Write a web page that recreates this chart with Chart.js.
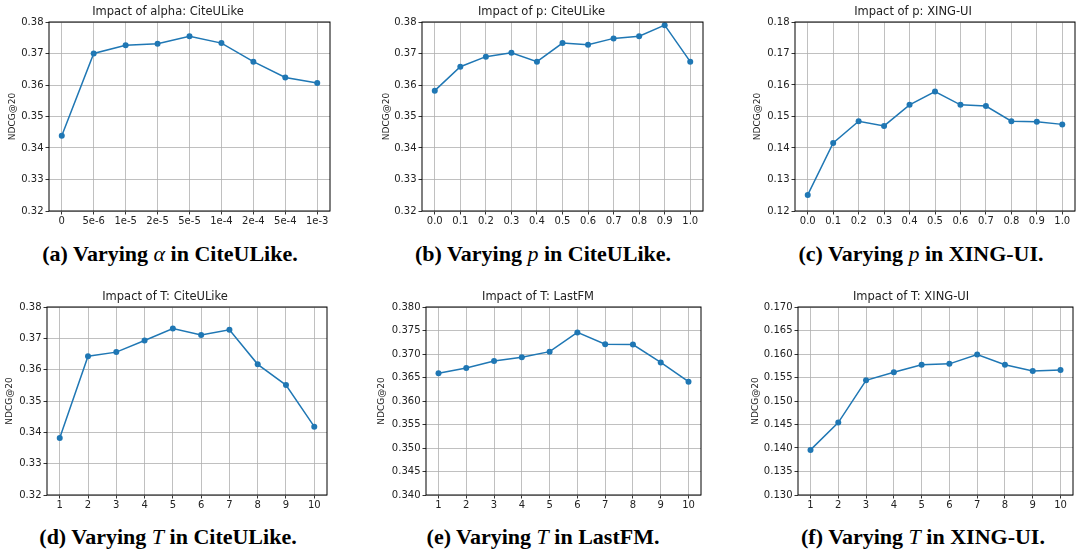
<!DOCTYPE html>
<html>
<head>
<meta charset="utf-8">
<script src="https://cdn.jsdelivr.net/npm/chart.js@4"></script>
<style>
  body { margin: 0; background: #fff; width: 1078px; height: 555px; position: relative; overflow: hidden; }
  canvas { position: absolute; }
  .cap {
    position: absolute; width: 360px; text-align: center;
    font-family: "Liberation Serif", "DejaVu Serif", serif; font-weight: bold; font-size: 22px;
    color: #000; white-space: nowrap;
  }
  .cap i { font-weight: normal; }
</style>
</head>
<body>
<canvas id="chartA"></canvas>
<canvas id="chartB"></canvas>
<canvas id="chartC"></canvas>
<canvas id="chartD"></canvas>
<canvas id="chartE"></canvas>
<canvas id="chartF"></canvas>
<div class="cap" style="left:-10px; top:241px;">(a) Varying <i>α</i> in CiteULike.</div>
<div class="cap" style="left:363px; top:241px;">(b) Varying <i>p</i> in CiteULike.</div>
<div class="cap" style="left:741px; top:241px;">(c) Varying <i>p</i> in XING-UI.</div>
<div class="cap" style="left:-12px; top:524px;">(d) Varying <i>T</i> in CiteULike.</div>
<div class="cap" style="left:363px; top:524px;">(e) Varying <i>T</i> in LastFM.</div>
<div class="cap" style="left:743px; top:524px;">(f) Varying <i>T</i> in XING-UI.</div>
<script>
// x categories / values
const alphaLabels = ['0', '5e-6', '1e-5', '2e-5', '5e-5', '1e-4', '2e-4', '5e-4', '1e-3'];
const pValues = [0.0, 0.1, 0.2, 0.3, 0.4, 0.5, 0.6, 0.7, 0.8, 0.9, 1.0];
const tValues = [1, 2, 3, 4, 5, 6, 7, 8, 9, 10];

// NDCG@20 series
const alphaCiteULike = [0.3439, 0.3700, 0.3726, 0.3731, 0.3755, 0.3733, 0.3674, 0.3624, 0.3606];
const pCiteULike = [0.3582, 0.3658, 0.3690, 0.3702, 0.3674, 0.3733, 0.3728, 0.3748, 0.3755, 0.3790, 0.3674];
const pXingUI = [0.1251, 0.1416, 0.1485, 0.1470, 0.1537, 0.1579, 0.1537, 0.1533, 0.1485, 0.1483, 0.1475];
const tCiteULike = [0.3382, 0.3643, 0.3656, 0.3693, 0.3731, 0.3711, 0.3727, 0.3617, 0.3551, 0.3418];
const tLastFM = [0.3659, 0.3670, 0.3685, 0.3693, 0.3705, 0.3746, 0.3721, 0.3720, 0.3682, 0.3641];
const tXingUI = [0.1396, 0.1454, 0.1544, 0.1561, 0.1577, 0.1579, 0.1599, 0.1577, 0.1564, 0.1566];

// y tick labels
const yTicksCite = ['0.32', '0.33', '0.34', '0.35', '0.36', '0.37', '0.38'];
const yTicksXingP = ['0.12', '0.13', '0.14', '0.15', '0.16', '0.17', '0.18'];
const yTicksLastFM = ['0.340', '0.345', '0.350', '0.355', '0.360', '0.365', '0.370', '0.375', '0.380'];
const yTicksXingT = ['0.130', '0.135', '0.140', '0.145', '0.150', '0.155', '0.160', '0.165', '0.170'];

const BLUE = '#1f77b4';
const GRID = '#b0b0b0';
const TEXT = '#222';
const TITLE_H = 22;
const XAXIS_H = 20;
const PAD_R = 3;

// draws the full black frame around the plot area
const framePlugin = {
    id: 'frame',
    afterDraw(chart) {
        const a = chart.chartArea;
        const ctx = chart.ctx;
        ctx.save();
        ctx.strokeStyle = '#000';
        ctx.lineWidth = 1;
        ctx.strokeRect(a.left, a.top, a.right - a.left, a.bottom - a.top);
        ctx.restore();
    }
};

function makePanel(id, opts) {
    const canvas = document.getElementById(id);
    const yw = opts.plot.l - opts.left;
    const w = opts.plot.r - opts.left + PAD_R;
    const h = (opts.plot.b - opts.plot.t) + TITLE_H + XAXIS_H;
    canvas.style.left = opts.left + 'px';
    canvas.style.top = (opts.plot.t - TITLE_H) + 'px';
    canvas.style.width = w + 'px';
    canvas.style.height = h + 'px';
    canvas.width = w;
    canvas.height = h;

    const yVals = opts.yTicks.map(Number);
    const points = opts.xs.map((x, i) => ({ x: x, y: opts.data[i] }));

    new Chart(canvas, {
        type: 'line',
        data: {
            datasets: [{
                data: points,
                borderColor: BLUE,
                backgroundColor: BLUE,
                borderWidth: 1.5,
                pointRadius: 3,
                pointBorderWidth: 0,
                tension: 0
            }]
        },
        options: {
            responsive: false,
            animation: false,
            events: [],
            layout: { padding: { top: 0, right: PAD_R, bottom: 0, left: 0 } },
            plugins: {
                legend: { display: false },
                tooltip: { enabled: false },
                title: {
                    display: true,
                    text: opts.title,
                    color: TEXT,
                    font: { family: 'DejaVu Sans', size: 11.5, weight: 'normal', lineHeight: 1.2 },
                    padding: { top: 5, bottom: 3.2 }
                }
            },
            scales: {
                x: {
                    type: 'linear',
                    min: opts.xmin,
                    max: opts.xmax,
                    afterBuildTicks: s => { s.ticks = opts.xs.map(v => ({ value: v })); },
                    afterFit: s => { s.height = XAXIS_H; },
                    ticks: {
                        color: TEXT,
                        padding: 1,
                        maxRotation: 0,
                        autoSkip: false,
                        font: { family: 'DejaVu Sans', size: 10 },
                        callback: (v, i) => opts.xLabels[i]
                    },
                    grid: { color: GRID, lineWidth: 0.8, tickColor: '#000', tickLength: 3.5 },
                    border: { display: false }
                },
                y: {
                    type: 'linear',
                    min: yVals[0],
                    max: yVals[yVals.length - 1],
                    afterBuildTicks: s => { s.ticks = yVals.map(v => ({ value: v })); },
                    afterFit: s => { s.width = yw; },
                    ticks: {
                        color: TEXT,
                        padding: 2,
                        autoSkip: false,
                        font: { family: 'DejaVu Sans', size: 10 },
                        callback: (v, i) => opts.yTicks[i]
                    },
                    title: {
                        display: true,
                        text: 'NDCG@20',
                        color: TEXT,
                        font: { family: 'DejaVu Sans', size: 9 },
                        padding: { top: 2.6, bottom: 0 }
                    },
                    grid: { color: GRID, lineWidth: 0.8, tickColor: '#000', tickLength: 3.5 },
                    border: { display: false }
                }
            }
        },
        plugins: [framePlugin]
    });
}

document.addEventListener('DOMContentLoaded', function() {
    const pLabels = pValues.map(v => v.toFixed(1));
    const tLabels = tValues.map(String);

    makePanel('chartA', {
        title: 'Impact of alpha: CiteULike',
        left: 5, plot: { l: 49, r: 331, t: 22, b: 211 },
        xs: alphaLabels.map((_, i) => i), xLabels: alphaLabels, xmin: -0.4, xmax: 8.4,
        data: alphaCiteULike, yTicks: yTicksCite
    });
    makePanel('chartB', {
        title: 'Impact of p: CiteULike',
        left: 379, plot: { l: 422, r: 704, t: 22, b: 211 },
        xs: pValues, xLabels: pLabels, xmin: -0.05, xmax: 1.05,
        data: pCiteULike, yTicks: yTicksCite
    });
    makePanel('chartC', {
        title: 'Impact of p: XING-UI',
        left: 750, plot: { l: 795, r: 1076, t: 22, b: 211 },
        xs: pValues, xLabels: pLabels, xmin: -0.05, xmax: 1.05,
        data: pXingUI, yTicks: yTicksXingP
    });
    makePanel('chartD', {
        title: 'Impact of T: CiteULike',
        left: 2, plot: { l: 47, r: 328, t: 307, b: 495 },
        xs: tValues, xLabels: tLabels, xmin: 0.55, xmax: 10.45,
        data: tCiteULike, yTicks: yTicksCite
    });
    makePanel('chartE', {
        title: 'Impact of T: LastFM',
        left: 374, plot: { l: 426, r: 702, t: 307, b: 495 },
        xs: tValues, xLabels: tLabels, xmin: 0.55, xmax: 10.45,
        data: tLastFM, yTicks: yTicksLastFM
    });
    makePanel('chartF', {
        title: 'Impact of T: XING-UI',
        left: 748, plot: { l: 798, r: 1074, t: 307, b: 495 },
        xs: tValues, xLabels: tLabels, xmin: 0.55, xmax: 10.45,
        data: tXingUI, yTicks: yTicksXingT
    });
});
</script>
</body>
</html>
